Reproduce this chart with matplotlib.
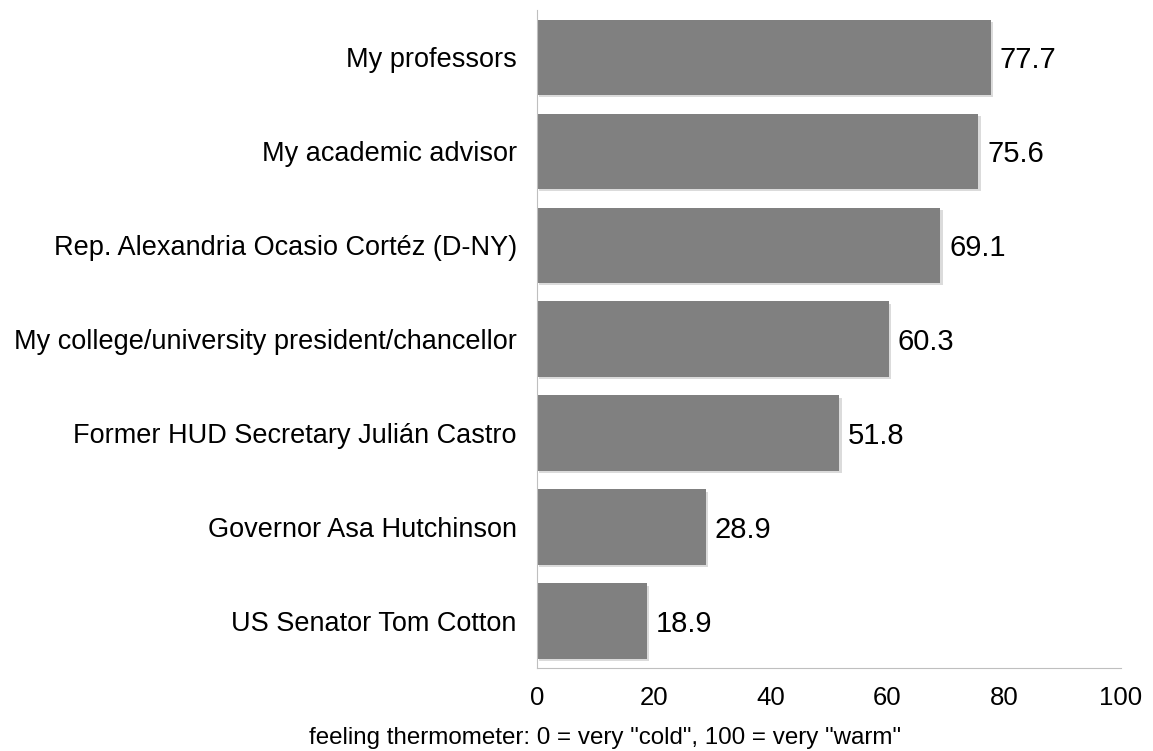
import matplotlib.pyplot as plt
import matplotlib.patheffects as pe

plt.rcParams['font.family'] = ['Liberation Sans', 'DejaVu Sans']

# feeling thermometer means, top to bottom
labels = ['My professors', 'My academic advisor', 'Rep. Alexandria Ocasio Cortéz (D-NY)',
          'My college/university president/chancellor', 'Former HUD Secretary Julián Castro',
          'Governor Asa Hutchinson', 'US Senator Tom Cotton']
scores = [77.7, 75.6, 69.1, 60.3, 51.8, 28.9, 18.9]
xticks = [0, 20, 40, 60, 80, 100]

fig = plt.figure(figsize=(11.53, 7.51), dpi=100)
ax = fig.add_axes([0.4657, 0.1105, 0.5065, 0.876])

pos = list(range(len(labels)))[::-1]
bars = ax.barh(pos, scores, height=0.8, color='#808080')
# faint drop shadow on each bar
for b in bars:
    b.set_path_effects([pe.SimplePatchShadow(offset=(1.5, -1.5), shadow_rgbFace='#999999', alpha=0.35),
                        pe.Normal()])
for y, v in zip(pos, scores):
    ax.text(v + 1.5, y - 0.035, f'{v:.1f}', va='center', ha='left', fontsize=21)

ax.set_xlim(0, 100)
ax.set_ylim(-0.5, len(labels) - 0.5)
ax.set_yticks(pos)
ax.set_yticklabels(labels, fontsize=19.5)
ax.set_xticks(xticks)
ax.set_xticklabels([str(t) for t in xticks], fontsize=18.5)
ax.tick_params(axis='y', length=0, pad=14.5)
ax.tick_params(axis='x', length=0, pad=13)

# axis title sits centred on the figure rather than the plot area
fig.text(605 / 1153, 1 - 744 / 751,
         'feeling thermometer: 0 = very "cold", 100 = very "warm"',
         ha='center', va='baseline', fontsize=17.4)

for s in ['top', 'right']:
    ax.spines[s].set_visible(False)
ax.spines['left'].set_color('#bfbfbf')
ax.spines['bottom'].set_color('#bfbfbf')

fig.savefig('out.png', dpi=100)
